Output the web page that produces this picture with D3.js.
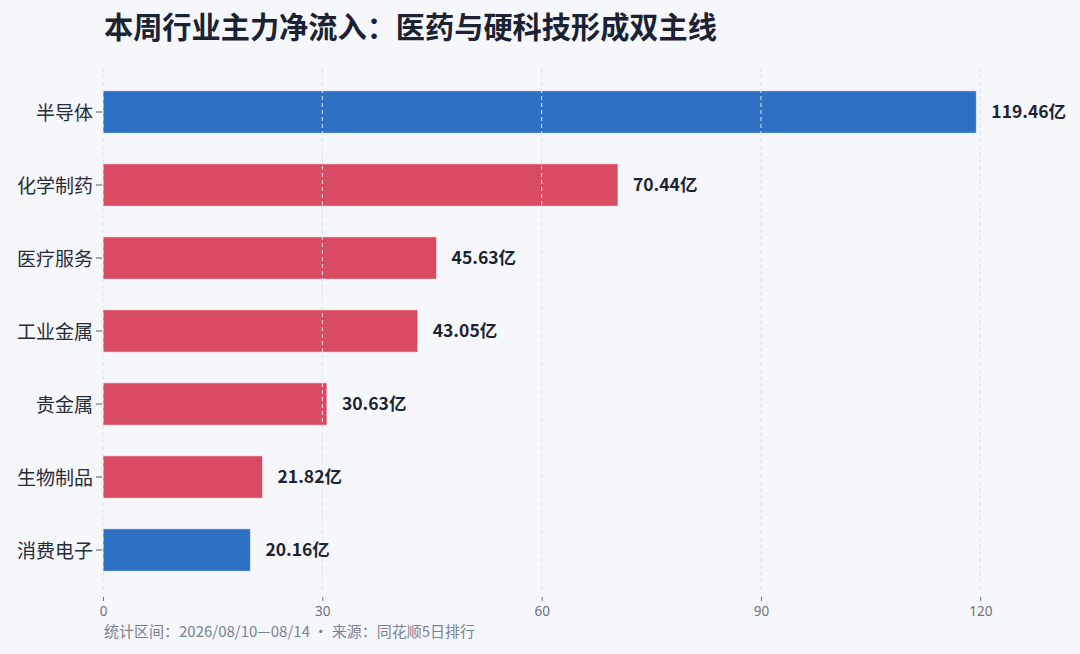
<!DOCTYPE html>
<html>
<head>
<meta charset="utf-8">
<script src="https://cdn.jsdelivr.net/npm/d3@7"></script>
<style>
  body { margin: 0; background: #f5f7fb; }
  svg { display: block; font-family: "Noto Sans CJK SC", "Noto Sans", sans-serif; }
</style>
</head>
<body>
<svg class="chart"></svg>
<script>
// data
var categories = ["半导体", "化学制药", "医疗服务", "工业金属", "贵金属", "生物制品", "消费电子"];
var inflows = [119.46, 70.44, 45.63, 43.05, 30.63, 21.82, 20.16];
var groups = ["tech", "pharma", "pharma", "pharma", "pharma", "pharma", "tech"];
var xTicks = [0, 30, 60, 90, 120];

var data = categories.map(function(c, i){
    return { name: c, value: inflows[i], group: groups[i] };
});

var totalW = 1080, totalH = 654;
var margin = {left: 103, right: 13};

var svg = d3.select(".chart")
    .attr("width", totalW)
    .attr("height", totalH);

svg.append("rect")
    .attr("width", totalW)
    .attr("height", totalH)
    .attr("fill", "#f5f7fb");

var xChart = d3.scaleLinear()
    .domain([0, 132])
    .range([margin.left, margin.left + 965]);

var yChart = d3.scaleBand()
    .domain(categories)
    .range([75.5, 586.5])
    .paddingInner(0.42)
    .paddingOuter(0.21);

var gridTop = 68, gridBottom = 590;

// bars
svg.selectAll(".bar")
    .data(data)
    .enter()
    .append("rect")
    .attr("class", "bar")
    .attr("x", xChart(0))
    .attr("y", function(d){ return yChart(d.name); })
    .attr("width", function(d){ return xChart(d.value) - xChart(0); })
    .attr("height", yChart.bandwidth())
    .attr("fill", function(d){ return d.group === "tech" ? "#2c6fc3" : "#d94b63"; })
    .attr("stroke", "rgba(255,255,255,0.55)")
    .attr("stroke-width", 1);

// dashed grid on top of bars
svg.selectAll(".grid")
    .data(xTicks)
    .enter()
    .append("line")
    .attr("class", "grid")
    .attr("x1", function(d){ return xChart(d); })
    .attr("x2", function(d){ return xChart(d); })
    .attr("y1", gridTop)
    .attr("y2", gridBottom)
    .attr("stroke", "#dde2ea")
    .attr("stroke-width", 1)
    .attr("stroke-dasharray", "4,3");

// value labels
svg.selectAll(".val")
    .data(data)
    .enter()
    .append("text")
    .attr("class", "val")
    .attr("x", function(d){ return xChart(d.value) + 15; })
    .attr("y", function(d){ return yChart(d.name) + yChart.bandwidth() / 2; })
    .attr("dy", "0.35em")
    .attr("font-size", 17.5)
    .attr("font-weight", 700)
    .attr("fill", "#1c2433")
    .text(function(d){ return d.value.toFixed(2) + "亿"; });

// y axis
var yAxis = d3.axisLeft(yChart).tickSize(6).tickPadding(3);
var yG = svg.append("g")
    .attr("transform", "translate(" + (margin.left - 1) + ",0)")
    .call(yAxis);
yG.select(".domain").remove();
yG.selectAll(".tick line").attr("stroke", "#555b66");
yG.selectAll("text")
    .attr("font-size", 19)
    .attr("dy", "0.4em")
    .attr("fill", "#262c38")
    .attr("font-family", "'Noto Sans CJK SC', sans-serif");

// x axis
var xAxis = d3.axisBottom(xChart).tickValues(xTicks).tickSize(4).tickPadding(5);
var xG = svg.append("g")
    .attr("transform", "translate(0,597)")
    .call(xAxis);
xG.select(".domain").remove();
xG.selectAll(".tick line").attr("stroke", "#6b7280");
xG.selectAll("text")
    .attr("font-size", 13.5)
    .attr("fill", "#6b7280")
    .attr("font-family", "'Noto Sans', sans-serif");

// title
svg.append("text")
    .attr("x", 104)
    .attr("y", 38)
    .attr("font-size", 29.2)
    .attr("font-weight", 700)
    .attr("fill", "#1a2233")
    .text("本周行业主力净流入：医药与硬科技形成双主线");

// footer
svg.append("text")
    .attr("x", 104)
    .attr("y", 637)
    .attr("font-size", 15)
    .attr("fill", "#7a8291")
    .text("统计区间：2026/08/10—08/14 · 来源：同花顺5日排行");
</script>
</body>
</html>
